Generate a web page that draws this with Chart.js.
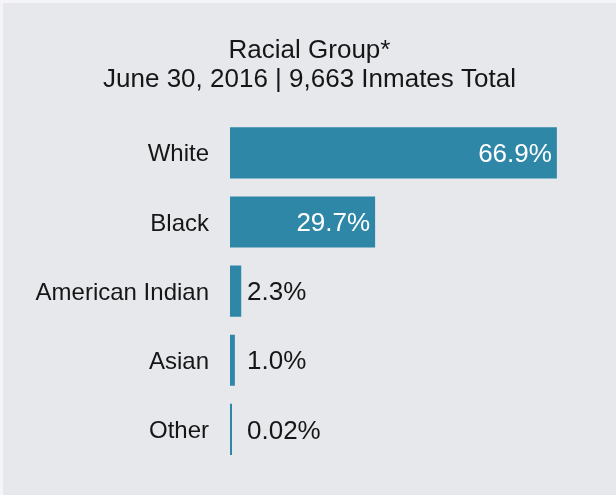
<!DOCTYPE html>
<html>
<head>
<meta charset="utf-8">
<script src="https://cdn.jsdelivr.net/npm/chart.js@4"></script>
<style>
  html, body { margin: 0; padding: 0; background: #f5f5f7; }
  #wrap {
    position: absolute; left: 3px; top: 3px;
    width: 613px; height: 492px;
    background: #e7e8ec;
  }
</style>
</head>
<body>
<div id="wrap"><canvas id="myChart"></canvas></div>
<script>
// data
var categories = ["White", "Black", "American Indian", "Asian", "Other"];
var shares = [66.9, 29.7, 2.3, 1.0, 0.02];
var shareLabels = ["66.9%", "29.7%", "2.3%", "1.0%", "0.02%"];
var titleLines = ["Racial Group*", "June 30, 2016 | 9,663 Inmates Total"];

var FONT = '"Liberation Sans", Arial, Helvetica, sans-serif';
var TEXT = '#161616';
var BAR = '#2f87a8';

// draws the % labels next to / inside each bar
var valueLabels = {
    id: 'valueLabels',
    afterDatasetsDraw: function (chart) {
        var ctx = chart.ctx;
        var meta = chart.getDatasetMeta(0);
        var left = chart.chartArea.left;
        ctx.save();
        ctx.font = '26px ' + FONT;
        ctx.textBaseline = 'middle';
        meta.data.forEach(function (bar, i) {
            var width = bar.x - bar.base;
            if (width > 100) {
                // wide bars: label inside, white
                ctx.fillStyle = '#ffffff';
                ctx.textAlign = 'right';
                ctx.fillText(shareLabels[i], bar.x - 5, bar.y + 2);
            } else {
                ctx.fillStyle = TEXT;
                ctx.textAlign = 'left';
                ctx.fillText(shareLabels[i], Math.max(bar.x + 5, left + 17), bar.y + 2);
            }
        });
        ctx.restore();
    }
};

var ctx = document.getElementById('myChart');

new Chart(ctx, {
    type: 'bar',
    data: {
        labels: categories,
        datasets: [{
            data: shares,
            backgroundColor: BAR,
            borderWidth: 0,
            minBarLength: 2,
            barPercentage: 0.74,
            categoryPercentage: 1.0
        }]
    },
    options: {
        indexAxis: 'y',
        responsive: true,
        maintainAspectRatio: false,
        animation: false,
        layout: {
            padding: { top: 0, right: 0, bottom: 31, left: 0 }
        },
        plugins: {
            legend: { display: false },
            tooltip: { enabled: false },
            title: {
                display: true,
                text: titleLines,
                color: TEXT,
                font: { family: FONT, size: 26, weight: 'normal', lineHeight: 1.12 },
                padding: { top: 33, bottom: 24 }
            }
        },
        scales: {
            x: {
                display: false,
                min: 0,
                max: 79
            },
            y: {
                grid: { display: false, drawTicks: false },
                border: { display: false },
                ticks: {
                    color: TEXT,
                    padding: 21,
                    labelOffset: 2,
                    font: { family: FONT, size: 24 }
                },
                afterFit: function (scale) {
                    scale.width = 227;
                    // keep tick label padding from squeezing the plot area
                    scale.paddingTop = 0;
                    scale.paddingBottom = 0;
                }
            }
        }
    },
    plugins: [valueLabels]
});
</script>
</body>
</html>
